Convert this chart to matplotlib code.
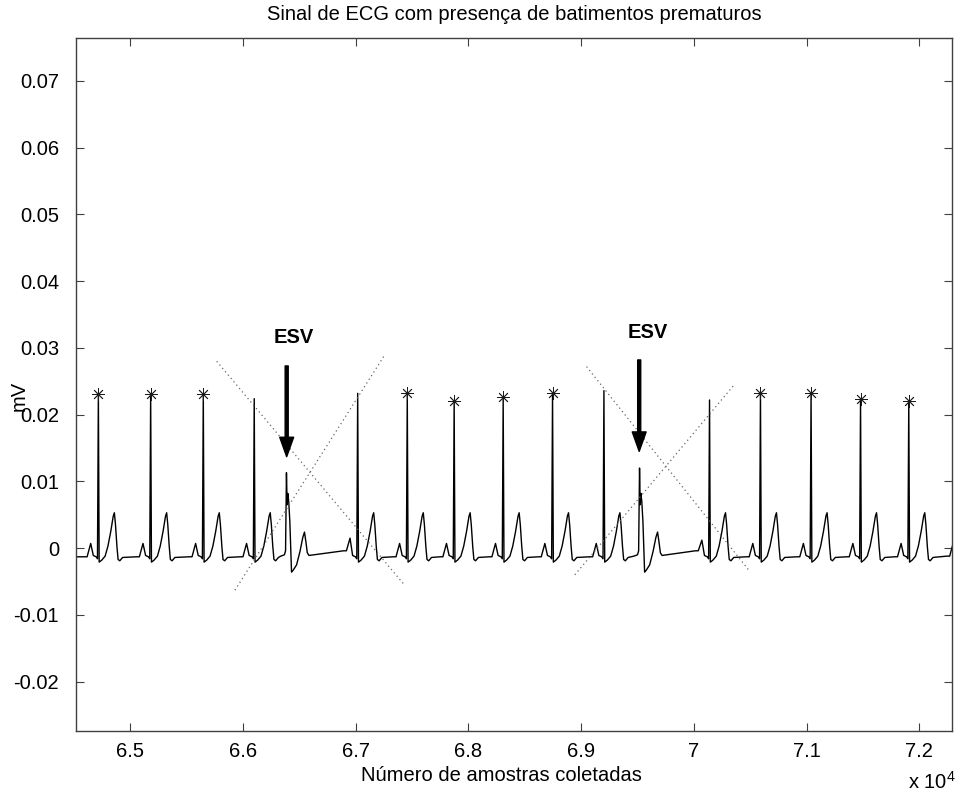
import matplotlib
matplotlib.use("Agg")
import matplotlib.pyplot as plt
from matplotlib.ticker import FuncFormatter

plt.rcParams['font.family'] = ['Liberation Sans', 'DejaVu Sans']
plt.rcParams['axes.unicode_minus'] = False
plt.rcParams['mathtext.default'] = 'regular'

r_pos = [64716, 65180, 65647, 66099, 66385, 67017, 67457, 67873, 68308,
         68746, 69202, 69518, 70139, 70591, 71040, 71479, 71907, 72370]
r_amp = [0.0231, 0.0231, 0.0231, 0.0224, 0.0113, 0.0232, 0.0232, 0.0221, 0.0226,
         0.0233, 0.0236, 0.0120, 0.0222, 0.0233, 0.0233, 0.0224, 0.0220, 0.0225]
tipo = ['N', 'N', 'N', 'N', 'V', 'N', 'N', 'N', 'N',
        'N', 'N', 'V', 'N', 'N', 'N', 'N', 'N', 'N']
p_amp = [0.0007, 0.0007, 0.0007, 0.0007, 0.0, 0.0015, 0.0007, 0.0007, 0.0007,
         0.0007, 0.0007, 0.0, 0.0012, 0.0007, 0.0007, 0.0007, 0.0007, 0.0008]
base_pre = [-0.0013, -0.0013, -0.0013, -0.0013, -0.0012, -0.0004, -0.0013, -0.0013, -0.0013,
            -0.0013, -0.0013, -0.0012, -0.0004, -0.0013, -0.0013, -0.0013, -0.0013, -0.0012]
marcado = [1, 1, 1, 0, 0, 0, 1, 1, 1, 1, 0, 0, 0, 1, 1, 1, 1, 0]

# forma de cada batimento (desvio em amostras a partir do pico R, valor em mV)
normal_off = [-125, -100, -68, -45, -20, -8, 0, 7, 30, 60, 85, 110, 132, 142, 152, 165, 175, 190, 215]
normal_val = ['B', 'B', 'P', -0.0011, -0.0013, -0.0016, 'R', -0.0021, -0.0018, -0.0012, 0.0003,
              0.0025, 0.0048, 0.0053, 0.0035, 0.0002, -0.0017, -0.0019, -0.0014]
esv_off = [-50, -18, -8, 0, 6, 12, 20, 30, 45, 60, 90, 120, 145, 160, 172, 185, 200]
esv_val = ['B', -0.0010, -0.0004, 'R', 0.0065, 0.0082, 0.0070, 0.0040, -0.0036, -0.0033,
           -0.0025, -0.0005, 0.0016, 0.0024, 0.0010, -0.0007, -0.0011]

# retas pontilhadas em X sobre cada ESV
cruz_x = [[65766, 67421], [65928, 67259], [69048, 70497], [68944, 70364]]
cruz_y = [[0.0280, -0.0053], [-0.0063, 0.0290], [0.0272, -0.0035], [-0.0040, 0.0246]]

# setas e rótulos
seta_x = [66387, 69515]
seta_topo = [0.0273, 0.0282]
seta_ponta = [0.0137, 0.0145]
rotulo_x = [66451, 69592]
rotulo_y = [0.0316, 0.0323]

# monta o traçado
sx, sy = [64400], [-0.0013]
for i in range(len(r_pos)):
    if tipo[i] == 'V':
        off, val = esv_off, esv_val
    else:
        off, val = normal_off, normal_val
    for o, v in zip(off, val):
        if v == 'R':
            v = r_amp[i]
        elif v == 'P':
            v = p_amp[i]
        elif v == 'B':
            v = base_pre[i]
        sx.append(r_pos[i] + o)
        sy.append(v)

fig = plt.figure(figsize=(9.56, 7.91), dpi=100)
ax = fig.add_axes([0.0792, 0.0759, 0.9169, 0.8757])

ax.plot(sx, sy, color='black', linewidth=1.0)

mx = [r_pos[i] for i in range(len(r_pos)) if marcado[i]]
my = [r_amp[i] for i in range(len(r_pos)) if marcado[i]]
ax.plot(mx, my, linestyle='none', marker=(8, 2, 0), markersize=9,
        markeredgewidth=0.6, color='0.1')

for xs, ys in zip(cruz_x, cruz_y):
    ax.plot(xs, ys, color='0.4', linestyle=(0, (1, 2.5)), linewidth=0.9)

for i in range(2):
    ax.annotate('', xy=(seta_x[i], seta_ponta[i]), xytext=(seta_x[i], seta_topo[i]),
                arrowprops=dict(facecolor='black', edgecolor='black', width=2.2,
                                headwidth=10, headlength=14, shrink=0))
    ax.text(rotulo_x[i], rotulo_y[i], 'ESV', fontsize=14.5, fontweight='bold',
            ha='center', va='center')

ax.set_xlim(64515, 72293)
ax.set_ylim(-0.0274, 0.0764)
ax.set_xticks(range(65000, 72001, 1000))
ax.set_yticks([-0.02, -0.01, 0, 0.01, 0.02, 0.03, 0.04, 0.05, 0.06, 0.07])
ax.xaxis.set_major_formatter(FuncFormatter(lambda v, p: '%g' % (v / 1e4)))
ax.yaxis.set_major_formatter(FuncFormatter(lambda v, p: '0' if abs(v) < 1e-9 else '%g' % round(v, 2)))

ax.tick_params(direction='in', top=True, right=True, length=6, width=0.8,
               color='0.25', labelsize=14.5, labelcolor='black')
ax.tick_params(axis='y', pad=12)
ax.tick_params(axis='x', pad=8)
for s in ax.spines.values():
    s.set_color('0.25')
    s.set_linewidth(1.0)

ax.set_title('Sinal de ECG com presença de batimentos prematuros', fontsize=14.5,
             y=1.035, va='center', pad=0)
ax.set_xlabel('Número de amostras coletadas', fontsize=14.5, va='center')
ax.xaxis.set_label_coords(0.4857, -0.065)
ax.set_ylabel('mV', fontsize=14.5, va='center')
ax.yaxis.set_label_coords(-0.064, 0.484)
fig.text(908 / 956, 1 - 782 / 791, r'x 10$^4$', fontsize=14.5, ha='left', va='center')

fig.savefig('out.png', dpi=100)
